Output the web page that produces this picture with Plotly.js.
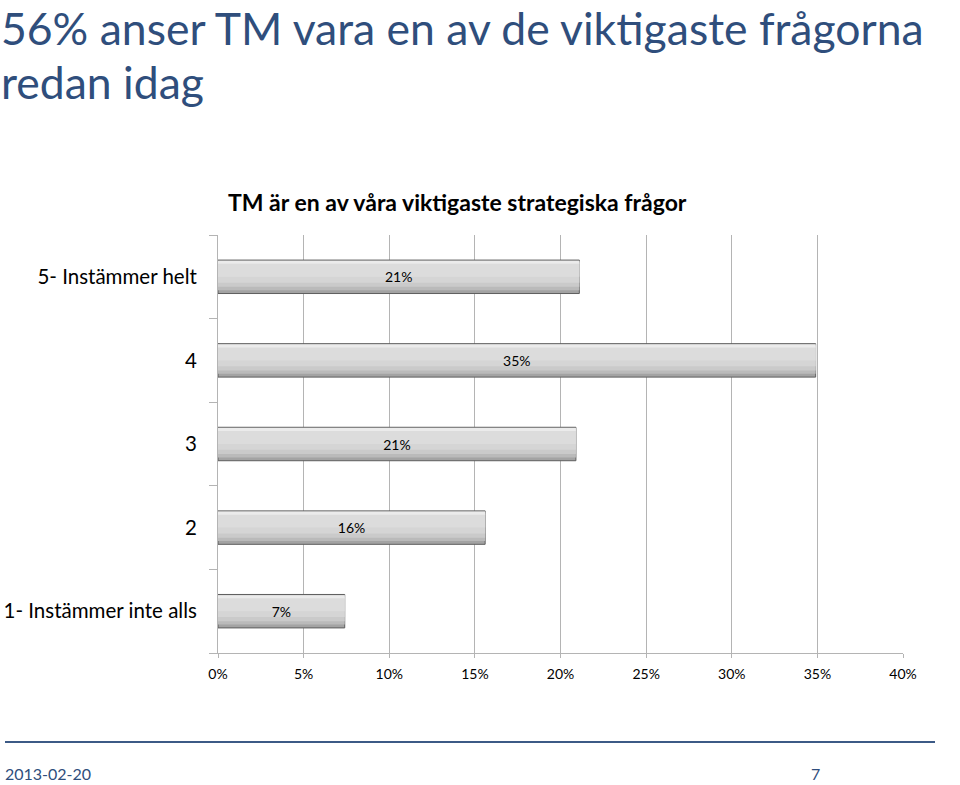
<!DOCTYPE html>
<html>
<head>
<meta charset="utf-8">
<script src="https://cdn.plot.ly/plotly-3.0.1.min.js"></script>
<style>
  html, body { margin: 0; padding: 0; background: #fff; }
  #chart { width: 960px; height: 785px; }
</style>
</head>
<body>
<div id="chart"></div>
<script>
// ---- Data ----
const categories = ["1- Instämmer inte alls", "2", "3", "4", "5- Instämmer helt"];
const values = [7.4, 15.6, 20.9, 34.9, 21.1];
const valueLabels = ["7%", "16%", "21%", "35%", "21%"];
const xTickVals = [0, 5, 10, 15, 20, 25, 30, 35, 40];
const xTickText = ["0%", "5%", "10%", "15%", "20%", "25%", "30%", "35%", "40%"];
const pageTitleLine1 = "56% anser TM vara en av de viktigaste frågorna";
const pageTitleLine2 = "redan idag";
const chartTitle = "TM är en av våra viktigaste strategiska frågor";
const footerDate = "2013-02-20";
const footerPage = "7";

const FONT = "Lato, 'Open Sans', sans-serif";
const BLUE = "#2F4E7C";

// pixel -> paper helpers (plot area: x 218..903, y 235..653)
const px = (p) => (p - 218) / 685;
const py = (p) => (653 - p) / 418;

// layered bars to imitate the bevelled grey gradient (light top, darker bottom)
const layers = [
  { offset: -0.20, width: 0.40, color: "#A3A3A3", line: { color: "#5E5E5E", width: 1 } },
  { offset: -0.16, width: 0.355, color: "#BABABA", line: { width: 0 } },
  { offset: -0.12, width: 0.30, color: "#CACACA", line: { width: 0 } },
  { offset: -0.07, width: 0.24, color: "#D5D5D5", line: { width: 0 } },
  { offset: 0.00, width: 0.16, color: "#DCDCDC", line: { width: 0 } },
  { offset: 0.155, width: 0.035, color: "#EBEBEB", line: { width: 0 } }
];

const traces = layers.map((L) => ({
  type: "bar",
  orientation: "h",
  x: values,
  y: categories,
  width: L.width,
  offset: L.offset,
  marker: { color: L.color, line: L.line },
  textposition: "none",
  hoverinfo: "skip",
  showlegend: false
}));

// transparent top layer carrying the value labels
traces.push({
  type: "bar",
  orientation: "h",
  x: values,
  y: categories,
  width: 0.40,
  offset: -0.20,
  marker: { color: "rgba(0,0,0,0)", line: { width: 0 } },
  text: valueLabels,
  textposition: "inside",
  insidetextanchor: "middle",
  textfont: { family: FONT, size: 14, color: "#000" },
  hoverinfo: "skip",
  showlegend: false
});

const layout = {
  width: 960,
  height: 785,
  paper_bgcolor: "#fff",
  plot_bgcolor: "#fff",
  margin: { l: 218, r: 57, t: 235, b: 132 },
  barmode: "overlay",
  font: { family: FONT, color: "#000" },
  xaxis: {
    range: [0, 40],
    tickvals: xTickVals,
    ticktext: xTickText,
    showgrid: true,
    gridcolor: "#B4B4B4",
    gridwidth: 1,
    zeroline: false,
    showline: true,
    linecolor: "#B4B4B4",
    ticks: "outside",
    ticklen: 4,
    tickcolor: "#B4B4B4",
    ticklabelstandoff: 4,
    tickfont: { family: FONT, size: 14, color: "#000" },
    fixedrange: true
  },
  yaxis: {
    type: "category",
    showgrid: false,
    zeroline: false,
    showline: true,
    linecolor: "#B4B4B4",
    ticks: "outside",
    tickson: "boundaries",
    ticklen: 8,
    tickcolor: "#B4B4B4",
    ticklabelstandoff: 16,
    tickfont: { family: FONT, size: 20.5, color: "#000" },
    fixedrange: true
  },
  annotations: [
    {
      text: pageTitleLine1,
      xref: "paper", yref: "paper",
      x: px(0), y: py(0),
      xanchor: "left", yanchor: "top",
      borderpad: 0,
      showarrow: false,
      font: { family: FONT, size: 44.5, color: BLUE }
    },
    {
      text: pageTitleLine2,
      xref: "paper", yref: "paper",
      x: px(0), y: py(53.6),
      xanchor: "left", yanchor: "top",
      borderpad: 0,
      showarrow: false,
      font: { family: FONT, size: 44.5, color: BLUE }
    },
    {
      text: "<b>" + chartTitle + "</b>",
      xref: "paper", yref: "paper",
      x: px(457), y: py(202),
      xanchor: "center", yanchor: "middle",
      showarrow: false,
      font: { family: FONT, size: 23, color: "#000" }
    },
    {
      text: footerDate,
      xref: "paper", yref: "paper",
      x: px(3), y: py(773),
      xanchor: "left", yanchor: "middle",
      showarrow: false,
      font: { family: FONT, size: 16, color: BLUE }
    },
    {
      text: footerPage,
      xref: "paper", yref: "paper",
      x: px(815), y: py(773),
      xanchor: "center", yanchor: "middle",
      showarrow: false,
      font: { family: FONT, size: 16, color: BLUE }
    }
  ],
  shapes: [
    {
      type: "line",
      xref: "paper", yref: "paper",
      x0: px(5), x1: px(935),
      y0: py(742), y1: py(742),
      line: { color: "#3C5A86", width: 2 }
    }
  ]
};

Plotly.newPlot("chart", traces, layout, { staticPlot: true, displayModeBar: false });
</script>
</body>
</html>
